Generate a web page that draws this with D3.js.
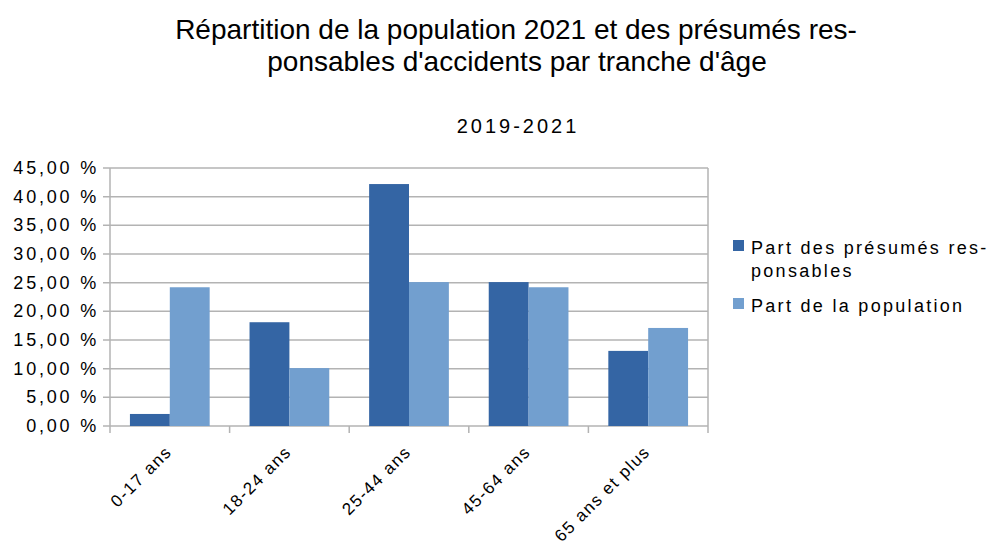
<!DOCTYPE html>
<meta charset="utf-8">
<style>
    body { margin: 0; background: #fff; }
    text { font-family: "Liberation Sans", Arial, sans-serif; fill: #000; }
    .grid line { stroke: #b3b3b3; stroke-width: 1.5px; }
    .frame { stroke: #b3b3b3; stroke-width: 1.5px; }
</style>
<svg width="990" height="553"></svg>
<script src="https://d3js.org/d3.v7.min.js"></script>
<script>

    // data
    var categories = ["0-17 ans", "18-24 ans", "25-44 ans", "45-64 ans", "65 ans et plus"];
    var seriesNames = ["Part des présumés responsables", "Part de la population"];
    var responsables = [2.1, 18.1, 42.2, 25.1, 13.1];
    var population = [24.2, 10.1, 25.1, 24.2, 17.1];
    var yTicks = [0, 5, 10, 15, 20, 25, 30, 35, 40, 45];
    var colors = ["#3465a4", "#729fcf"];

    var svg = d3.select("svg"),
        plotLeft = 110, plotRight = 708, plotTop = 168, plotBottom = 426;

    var x = d3.scaleBand().domain(categories).range([plotLeft, plotRight]);
    var x1 = d3.scaleBand().domain([0, 1]).range([0, x.bandwidth()]).paddingOuter(0.5).paddingInner(0);
    var y = d3.scaleLinear().domain([0, 45]).range([plotBottom, plotTop]);

    // titles
    var title = svg.append("text")
        .attr("text-anchor", "middle")
        .style("font-size", "28px");
    title.append("tspan").attr("x", 516).attr("y", 39).text("Répartition de la population 2021 et des présumés res-");
    title.append("tspan").attr("x", 517).attr("y", 71).text("ponsables d'accidents par tranche d'âge");

    svg.append("text")
        .attr("x", 518).attr("y", 133)
        .attr("text-anchor", "middle")
        .style("font-size", "20px")
        .style("letter-spacing", "3px")
        .text("2019-2021");

    // grid lines
    svg.append("g").attr("class", "grid")
        .selectAll("line")
        .data(yTicks)
        .enter().append("line")
        .attr("x1", plotLeft - 7).attr("x2", plotRight)
        .attr("y1", function (d) { return y(d); })
        .attr("y2", function (d) { return y(d); });

    // y labels
    svg.append("g")
        .selectAll("text")
        .data(yTicks)
        .enter().append("text")
        .attr("x", plotLeft - 11)
        .attr("y", function (d) { return y(d) + 6; })
        .attr("text-anchor", "end")
        .style("font-size", "18px")
        .style("letter-spacing", "2.8px")
        .text(function (d) { return d3.format(".2f")(d).replace(".", ",") + " %"; });

    // bars
    var data = categories.map(function (c, i) { return { cat: c, vals: [responsables[i], population[i]] }; });

    var groups = svg.append("g")
        .selectAll("g")
        .data(data)
        .enter().append("g")
        .attr("transform", function (d) { return "translate(" + x(d.cat) + ",0)"; });

    groups.selectAll("rect")
        .data(function (d) { return d.vals; })
        .enter().append("rect")
        .attr("x", function (d, i) { return x1(i); })
        .attr("width", x1.bandwidth())
        .attr("y", function (d) { return y(d); })
        .attr("height", function (d) { return plotBottom - y(d); })
        .attr("fill", function (d, i) { return colors[i]; });

    // axis frame and ticks
    svg.append("line").attr("class", "frame")
        .attr("x1", plotLeft).attr("x2", plotLeft).attr("y1", plotTop).attr("y2", plotBottom + 7);
    svg.append("line").attr("class", "frame")
        .attr("x1", plotRight).attr("x2", plotRight).attr("y1", plotTop).attr("y2", plotBottom + 7);

    svg.append("g")
        .selectAll("line")
        .data(categories.slice(1))
        .enter().append("line")
        .attr("class", "frame")
        .attr("x1", function (d) { return x(d); }).attr("x2", function (d) { return x(d); })
        .attr("y1", plotBottom).attr("y2", plotBottom + 7);

    // x labels
    svg.append("g")
        .selectAll("text")
        .data(categories)
        .enter().append("text")
        .attr("text-anchor", "end")
        .style("font-size", "17px")
        .style("letter-spacing", "1.5px")
        .attr("transform", function (d) {
            return "translate(" + (x(d) + x.bandwidth() / 2 + 3) + "," + (plotBottom + 27) + ") rotate(-45)";
        })
        .text(function (d) { return d; });

    // legend
    var legend = svg.append("g");
    legend.append("rect").attr("x", 733).attr("y", 240).attr("width", 11).attr("height", 11).attr("fill", colors[0]);
    legend.append("rect").attr("x", 733).attr("y", 298).attr("width", 11).attr("height", 11).attr("fill", colors[1]);
    var l1 = legend.append("text").style("font-size", "18px").style("letter-spacing", "2.3px");
    l1.append("tspan").attr("x", 751).attr("y", 254).text("Part des présumés res-");
    l1.append("tspan").attr("x", 751).attr("y", 277).text("ponsables");
    legend.append("text").attr("x", 751).attr("y", 312)
        .style("font-size", "18px").style("letter-spacing", "2.3px")
        .text(seriesNames[1]);

</script>
